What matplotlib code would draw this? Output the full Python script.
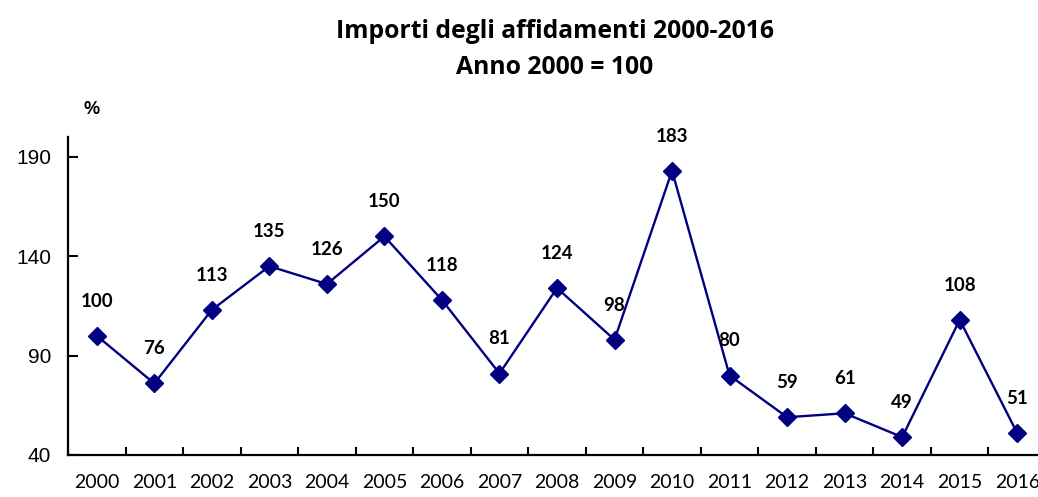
import matplotlib.pyplot as plt
import numpy as np

years = ['2000', '2001', '2002', '2003', '2004', '2005', '2006', '2007', '2008',
         '2009', '2010', '2011', '2012', '2013', '2014', '2015', '2016']
values = [100, 76, 113, 135, 126, 150, 118, 81, 124, 98, 183, 80, 59, 61, 49, 108, 51]
yticks = [40, 90, 140, 190]

navy = '#000080'
lab_font = 'Lato'

fig = plt.figure(figsize=(10.38, 4.97), dpi=100)
ax = fig.add_axes([68 / 1038, 42 / 497, 978 / 1038, 318 / 497])

x = np.arange(len(years))
ax.plot(x, values, color=navy, lw=1.7, marker='D', ms=9.5, mfc=navy, mec=navy)

for xi, v in zip(x, values):
    ax.annotate(str(v), (xi, v), xytext=(0, 25), textcoords='offset points',
                ha='center', va='center', fontsize=13.5, fontweight='bold',
                family=lab_font)

ax.set_xlim(-0.5, len(years) - 0.5)
ax.set_ylim(40, 200)
ax.set_yticks(yticks)
ax.set_yticklabels([str(t) for t in yticks], family='Liberation Sans', fontsize=15)

# ticks between categories, labels centred on categories
ax.set_xticks(np.arange(-0.5, len(years), 1))
ax.set_xticklabels([''] * (len(years) + 1))
ax.set_xticks(x, minor=True)
ax.set_xticklabels(years, minor=True, family=lab_font, fontsize=14)
ax.tick_params(axis='x', which='minor', length=0, pad=14)
ax.tick_params(axis='x', which='major', direction='in', length=6, width=1.5)
ax.tick_params(axis='y', direction='in', length=7, width=1.5, pad=12)

for s in ['top', 'right']:
    ax.spines[s].set_visible(False)
for s in ['left', 'bottom']:
    ax.spines[s].set_linewidth(1.6)

fig.text(555 / 1038, 1 - 31 / 497, 'Importi degli affidamenti 2000-2016', ha='center',
         va='center', fontsize=17.8, fontweight='bold', family='Open Sans')
fig.text(555 / 1038, 1 - 68 / 497, 'Anno 2000 = 100', ha='center',
         va='center', fontsize=17.8, fontweight='bold', family='Open Sans')
fig.text(92 / 1038, 1 - 110 / 497, '%', ha='center', va='center',
         fontsize=13, fontweight='bold', family='Liberation Sans')

fig.savefig('out.png', dpi=100)
